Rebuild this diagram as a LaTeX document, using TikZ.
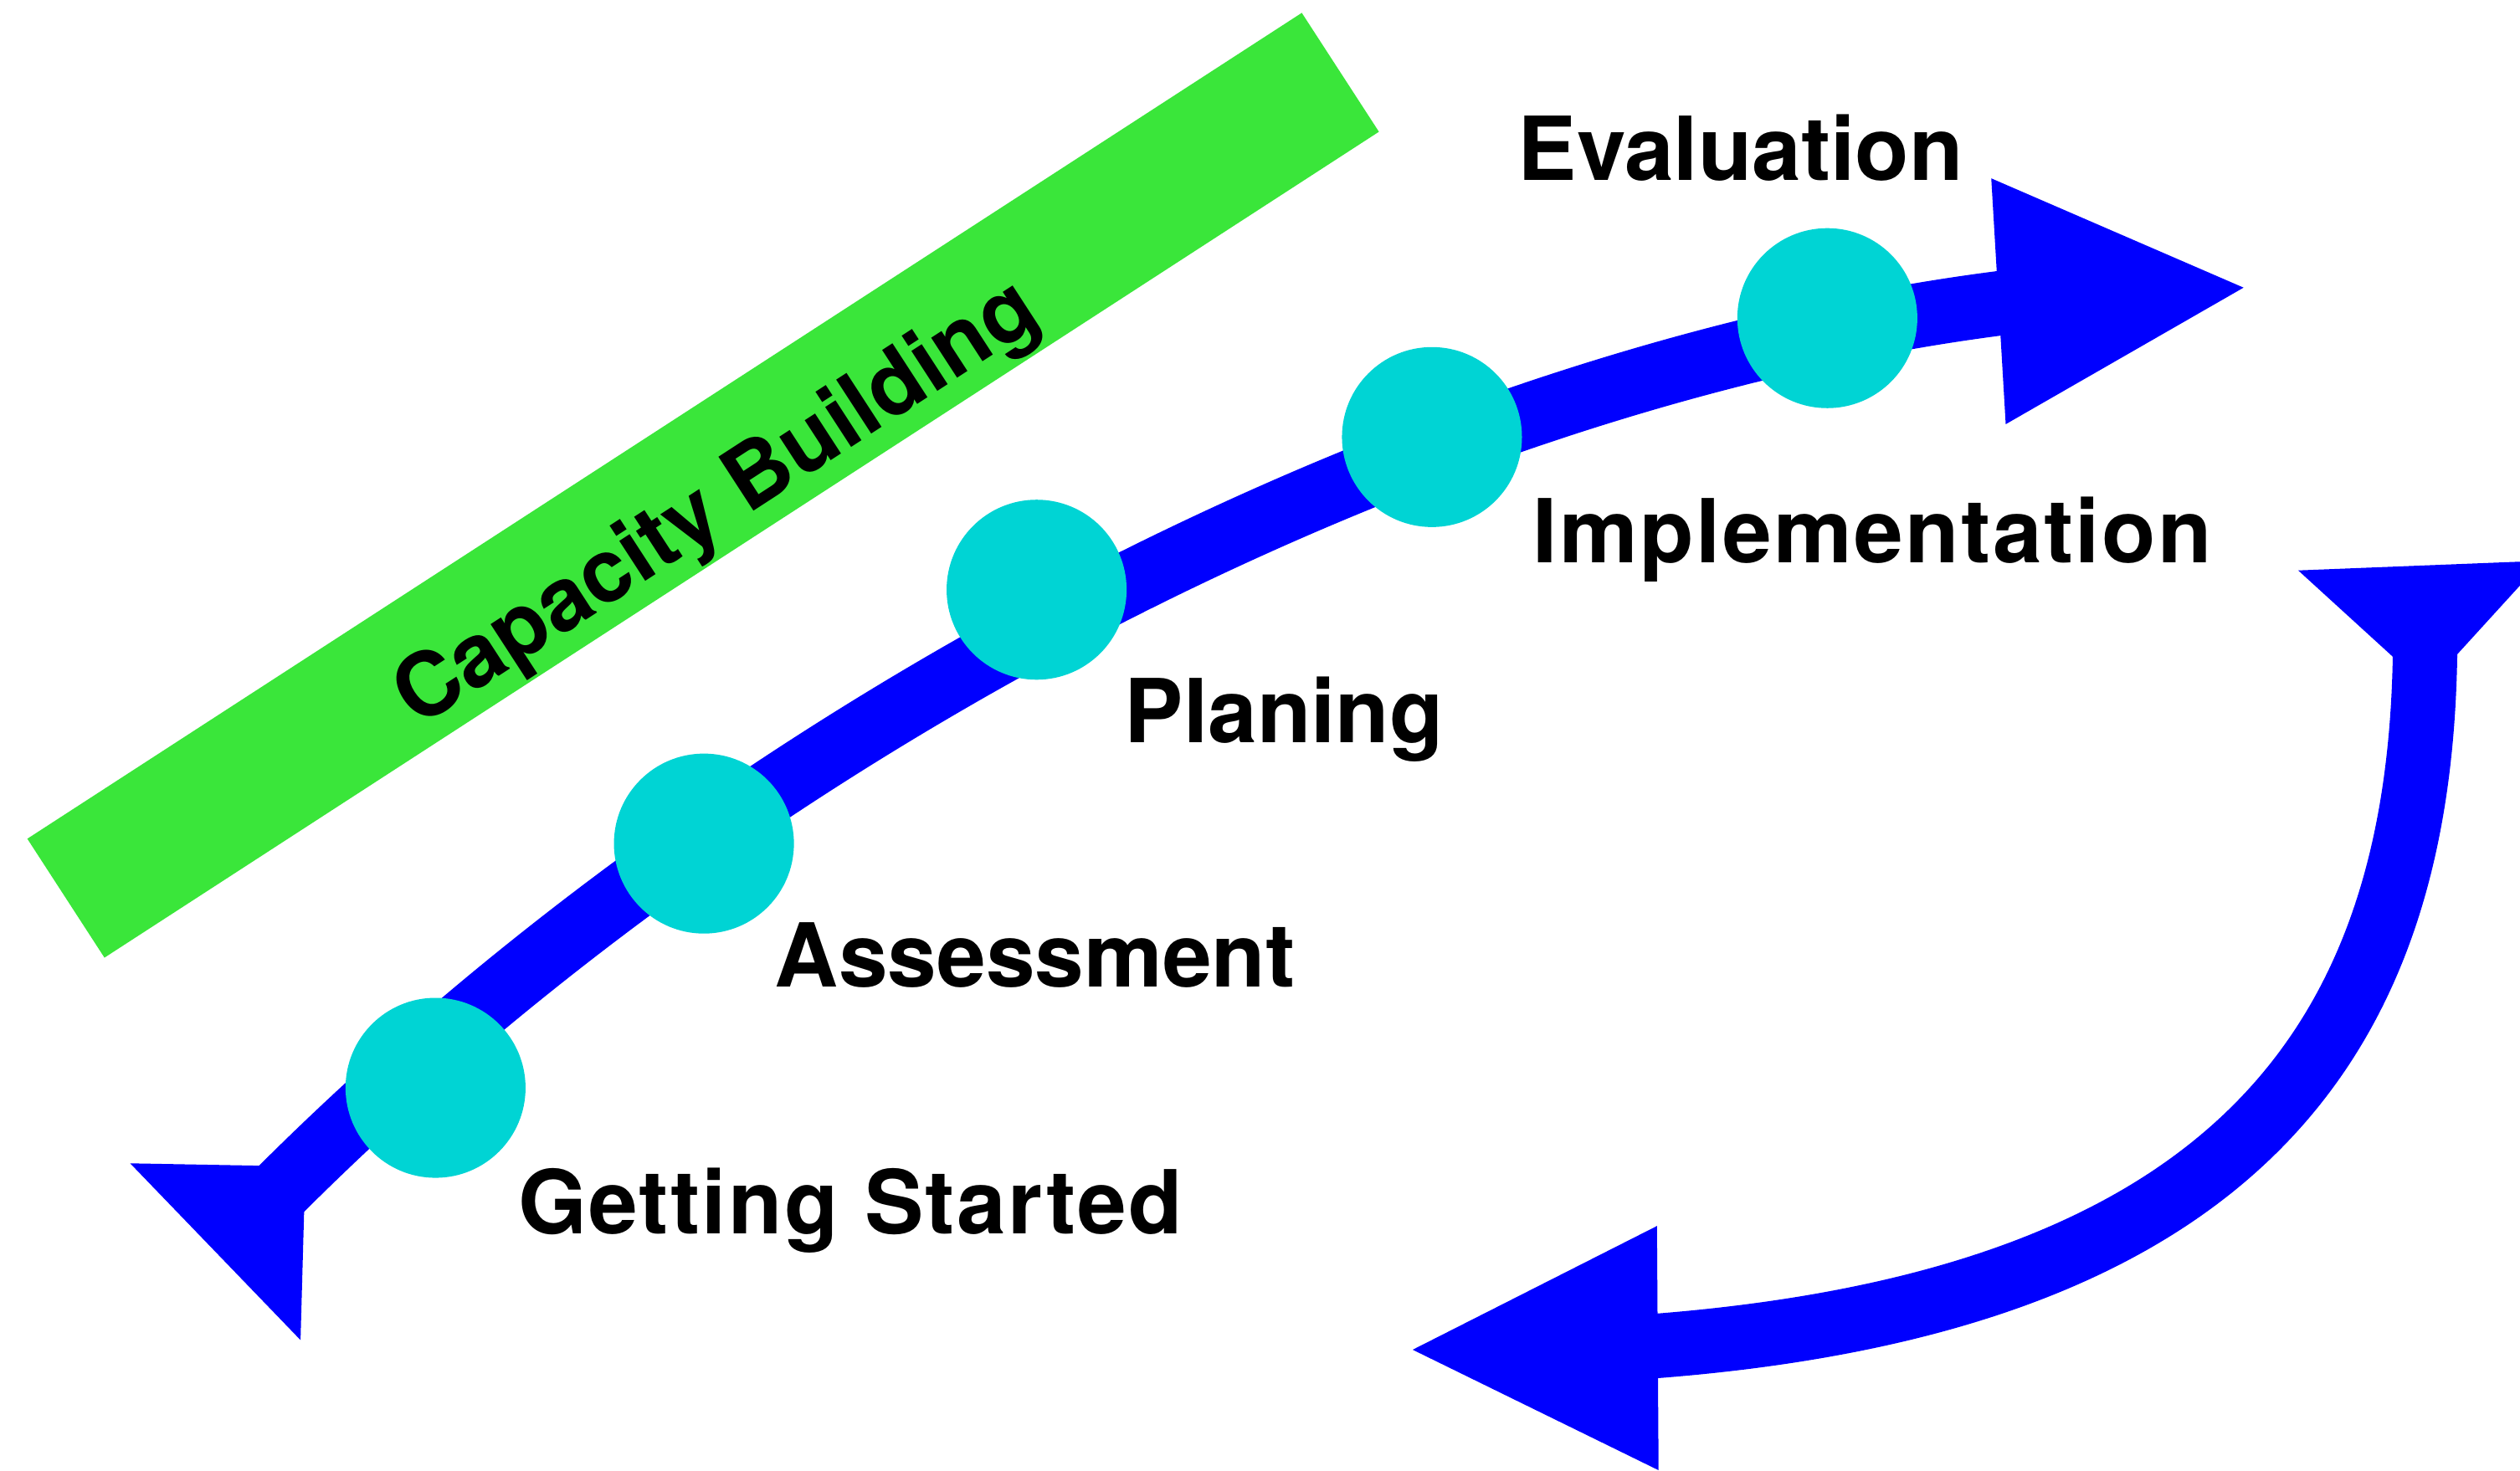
\documentclass[tikz,border=0pt]{standalone}
\usepackage{fontspec}
\setmainfont{TeX Gyre Heros}
\usepackage{tikz}
\definecolor{arrowblue}{rgb}{0.0,0.0,1.0}
\definecolor{stagecyan}{RGB}{0,212,212}
\definecolor{bandgreen}{RGB}{58,230,58}
\newcommand{\stagefont}{\fontsize{30}{36}\selectfont\bfseries}
\newcommand{\widestage}{\addfontfeatures{LetterSpace=2.2}}

\begin{document}
\begin{tikzpicture}[x=0.019203cm, y=-0.019203cm,
  stage/.style={circle, fill=stagecyan, minimum size=2.15cm, inner sep=0pt},
  stagelabel/.style={font=\stagefont, anchor=base, inner sep=0pt},
  shaft/.style={draw=arrowblue, line width=0.77cm}]
\useasboundingbox (0,0) rectangle (1568,915);
\clip (0,0) rectangle (1568,915);

\fill[bandgreen] (17,522) -- (810,8) -- (858,82) -- (65,596) -- cycle;
\node[rotate=33, font=\stagefont, inner sep=0pt] (cap) at (447,315) {Capacity Building};

\coordinate (gsEnd) at (173,742);
\coordinate (evEnd) at (1250,188);
\coordinate (loopTop) at (1509,395);
\coordinate (loopEnd) at (1026,838);
\draw[shaft] (gsEnd) .. controls +(300,-300) and +(-355,44) .. (evEnd);
\draw[shaft] (loopTop) .. controls +(0,245) and +(374,-28) .. (loopEnd);

\fill[arrowblue] (1239,111) -- (1396,179) -- (1248,264) -- cycle;
\fill[arrowblue] (879,840) -- (1031,763) -- (1032,915) -- cycle;
\fill[arrowblue] (81,724) -- (190,726) -- (187,834) -- cycle;
\fill[arrowblue] (1430,355) -- (1582,349) -- (1510,428) -- cycle;

\node[stage] (gs) at (271,677) {};
\node[stage] (as) at (438,525) {};
\node[stage] (pl) at (645,367) {};
\node[stage] (im) at (891,272) {};
\node[stage] (ev) at (1137,198) {};

\node[stagelabel] (gsLabel) at (529,768) {\widestage Getting Started};
\node[stagelabel] (asLabel) at (644,614) {Assessment};
\node[stagelabel] (plLabel) at (799,462) {Planing};
\node[stagelabel] (imLabel) at (1165,350) {\widestage Implementation};
\node[stagelabel] (evLabel) at (1083,112) {Evaluation};
\end{tikzpicture}
\end{document}
